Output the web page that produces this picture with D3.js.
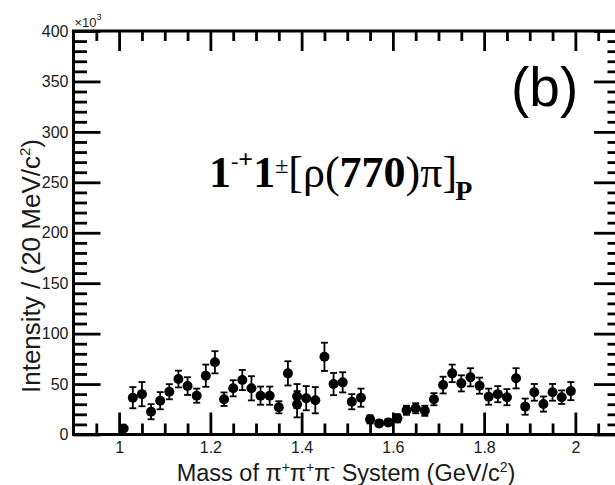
<!DOCTYPE html>
<html>
<head>
<meta charset="utf-8">
<script src="https://cdn.jsdelivr.net/npm/d3@7"></script>
<style>
  html, body { margin: 0; padding: 0; background: #fff; }
  svg { display: block; }
</style>
</head>
<body>
<svg id="chart" width="615" height="485"></svg>
<script>
// Bin centres (GeV/c^2), 20 MeV bins; 1.39 carries two entries
const mass = [1.01, 1.03, 1.05, 1.07, 1.09, 1.11, 1.13, 1.15, 1.17, 1.19,
              1.21, 1.23, 1.25, 1.27, 1.29, 1.31, 1.33, 1.35, 1.37, 1.39,
              1.39, 1.41, 1.43, 1.45, 1.47, 1.49, 1.51, 1.53, 1.55, 1.57,
              1.59, 1.61, 1.63, 1.65, 1.67, 1.69, 1.71, 1.73, 1.75, 1.77,
              1.79, 1.81, 1.83, 1.85, 1.87, 1.89, 1.91, 1.93, 1.95, 1.97, 1.99];
// Intensity (x10^3 events per 20 MeV/c^2)
const intensity = [6, 36.5, 40, 22.6, 33.5, 42.4, 55, 48, 38.5, 58.3,
                   71.6, 35, 45.8, 54, 45.8, 38.5, 38.5, 27, 60.6, 38,
                   30, 36, 34, 77, 50, 51.7, 32.5, 36.5, 15, 11,
                   12, 16, 24, 26, 23.5, 35, 49, 60.6, 50.7, 56.7,
                   48.4, 37.5, 40, 37, 55.7, 27.6, 41.8, 30.2, 41.8, 37, 43];
// Statistical uncertainty on each intensity
const errors = [2, 10.5, 12, 7.5, 8.5, 7.5, 8.3, 8.8, 7, 11,
                11, 6.7, 8, 10, 12, 9, 9, 6, 12, 12,
                13, 12, 13, 14, 11, 10, 7.5, 9, 4, 3,
                3, 4, 4.5, 5, 5, 6, 8.3, 8.7, 8, 9,
                8, 8, 8, 8, 10, 8, 8.3, 7.5, 8.3, 6.7, 9];

const xDomain = [0.9, 2.1];
const yDomain = [0, 400];
const xMajorTicks = [1.0, 1.2, 1.4, 1.6, 1.8, 2.0];
const xTickLabels = ["1", "1.2", "1.4", "1.6", "1.8", "2"];
const yMajorTicks = [0, 50, 100, 150, 200, 250, 300, 350, 400];
const yTickLabels = ["0", "50", "100", "150", "200", "250", "300", "350", "400"];

const frame = { left: 73.5, right: 621, top: 31, bottom: 434.5 };
const sans = "'Liberation Sans', Arial, Helvetica, sans-serif";
const serif = "'Liberation Serif', 'Times New Roman', Times, serif";

const svg = d3.select("#chart");
const x = d3.scaleLinear().domain(xDomain).range([frame.left, frame.right]);
const y = d3.scaleLinear().domain(yDomain).range([frame.bottom, frame.top]);

// minor tick positions between the labelled ones
const xMinor = d3.range(0.95, 2.1, 0.05).map(v => +v.toFixed(2))
  .filter(v => !xMajorTicks.some(m => Math.abs(m - v) < 1e-6));
const yMinor = d3.range(10, 400, 10).filter(v => v % 50 !== 0);

function styleAxis(g) {
  g.select(".domain").remove();
  g.selectAll(".tick line").attr("stroke", "#000").attr("stroke-width", 2.8);
  g.selectAll(".tick text").attr("fill", "#1a1a1a")
    .style("font-family", sans).style("font-size", "16px");
}

// bottom axis: labelled major ticks + minor ticks, pointing up into the frame
svg.append("g").attr("transform", `translate(0,${frame.bottom})`)
  .call(d3.axisBottom(x).tickValues(xMajorTicks)
    .tickFormat((d, i) => xTickLabels[i]).tickSize(-22).tickPadding(7))
  .call(styleAxis);
svg.append("g").attr("transform", `translate(0,${frame.bottom})`)
  .call(d3.axisBottom(x).tickValues(xMinor).tickFormat("").tickSize(-11))
  .call(styleAxis);
// top axis mirrors the bottom ticks
svg.append("g").attr("transform", `translate(0,${frame.top})`)
  .call(d3.axisTop(x).tickValues(xMajorTicks).tickFormat("").tickSize(-20))
  .call(styleAxis);
svg.append("g").attr("transform", `translate(0,${frame.top})`)
  .call(d3.axisTop(x).tickValues(xMinor).tickFormat("").tickSize(-10))
  .call(styleAxis);

// left axis
svg.append("g").attr("transform", `translate(${frame.left},0)`)
  .call(d3.axisLeft(y).tickValues(yMajorTicks)
    .tickFormat((d, i) => yTickLabels[i]).tickSize(-27).tickPadding(5))
  .call(styleAxis);
svg.append("g").attr("transform", `translate(${frame.left},0)`)
  .call(d3.axisLeft(y).tickValues(yMinor).tickFormat("").tickSize(-13.5))
  .call(styleAxis);
// right axis (ticks point inward)
svg.append("g").attr("transform", `translate(${frame.right},0)`)
  .call(d3.axisRight(y).tickValues(yMajorTicks).tickFormat("").tickSize(-27))
  .call(styleAxis);
svg.append("g").attr("transform", `translate(${frame.right},0)`)
  .call(d3.axisRight(y).tickValues(yMinor).tickFormat("").tickSize(-13.5))
  .call(styleAxis);

// frame
svg.append("rect")
  .attr("x", frame.left).attr("y", frame.top)
  .attr("width", frame.right - frame.left).attr("height", frame.bottom - frame.top)
  .attr("fill", "none").attr("stroke", "#000").attr("stroke-width", 3);

// exponent marker of the y axis
const expo = svg.append("text").attr("x", frame.left + 1).attr("y", 27)
  .style("font-family", sans).style("font-size", "13px").attr("fill", "#1a1a1a");
expo.append("tspan").text("\u00d710");
expo.append("tspan").attr("dy", -7).style("font-size", "9px").text("3");

// data points with error bars
const pts = mass.map((m, i) => ({ m, v: intensity[i], e: errors[i] }));
const capW = 3.5;
const bars = svg.append("g").attr("stroke", "#000").attr("stroke-width", 1.8);
bars.selectAll("line.err").data(pts).join("line").attr("class", "err")
  .attr("x1", d => x(d.m)).attr("x2", d => x(d.m))
  .attr("y1", d => y(d.v - d.e)).attr("y2", d => y(d.v + d.e));
bars.selectAll("line.capHi").data(pts).join("line").attr("class", "capHi")
  .attr("x1", d => x(d.m) - capW).attr("x2", d => x(d.m) + capW)
  .attr("y1", d => y(d.v + d.e)).attr("y2", d => y(d.v + d.e));
bars.selectAll("line.capLo").data(pts).join("line").attr("class", "capLo")
  .attr("x1", d => x(d.m) - capW).attr("x2", d => x(d.m) + capW)
  .attr("y1", d => y(d.v - d.e)).attr("y2", d => y(d.v - d.e));
svg.append("g").selectAll("circle").data(pts).join("circle")
  .attr("cx", d => x(d.m)).attr("cy", d => y(d.v)).attr("r", 5).attr("fill", "#000");

// axis titles
const xt = svg.append("text").attr("x", 346).attr("y", 481).attr("text-anchor", "middle")
  .style("font-family", sans).style("font-size", "23.5px").attr("fill", "#1a1a1a");
xt.append("tspan").text("Mass of \u03c0");
xt.append("tspan").attr("dy", -9).style("font-size", "14px").text("+");
xt.append("tspan").attr("dy", 9).text("\u03c0");
xt.append("tspan").attr("dy", -9).style("font-size", "14px").text("+");
xt.append("tspan").attr("dy", 9).text("\u03c0");
xt.append("tspan").attr("dy", -9).style("font-size", "14px").text("-");
xt.append("tspan").attr("dy", 9).text(" System (GeV/c");
xt.append("tspan").attr("dy", -9).style("font-size", "14px").text("2");
xt.append("tspan").attr("dy", 9).text(")");

const yt = svg.append("text").attr("transform", "translate(40,266) rotate(-90)")
  .attr("text-anchor", "middle")
  .style("font-family", sans).style("font-size", "26px").attr("fill", "#1a1a1a");
yt.append("tspan").text("Intensity / (20 MeV/c");
yt.append("tspan").attr("dy", -10).style("font-size", "15px").text("2");
yt.append("tspan").attr("dy", 10).text(")");

// panel label
svg.append("text").attr("x", 511).attr("y", 106)
  .style("font-family", sans).style("font-size", "55px").attr("fill", "#000").text("(b)");

// wave label 1^{-+}1^{±}[ρ(770)π]_P
const wl = svg.append("text").attr("x", 209).attr("y", 187)
  .style("font-family", serif).style("font-size", "44px").attr("fill", "#000");
wl.append("tspan").style("font-weight", "bold").text("1");
wl.append("tspan").attr("dy", -19).style("font-size", "22px").text("-");
wl.append("tspan").style("font-size", "26px").style("font-weight", "bold").text("+");
wl.append("tspan").attr("dy", 19).style("font-weight", "bold").text("1");
wl.append("tspan").attr("dy", -14).style("font-size", "24px").text("\u00b1");
wl.append("tspan").attr("dy", 14).text("[\u03c1(");
wl.append("tspan").style("font-weight", "bold").text("770");
wl.append("tspan").text(")\u03c0]");
wl.append("tspan").attr("dy", 13).attr("dx", -2).style("font-size", "28px").style("font-weight", "bold").text("P");
</script>
</body>
</html>
